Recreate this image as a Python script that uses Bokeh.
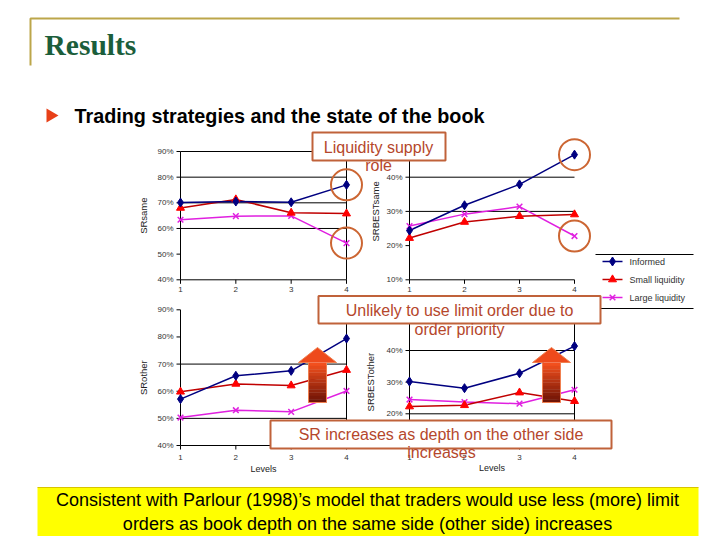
import math
from bokeh.plotting import figure
from bokeh.models import Range1d
from bokeh.embed import file_html
from bokeh.resources import INLINE
from bokeh.core.properties import value

# ---------------- data ----------------
levels = [1, 2, 3, 4]
level_labels = ["1", "2", "3", "4"]
series_names = ["Informed", "Small liquidity", "Large liquidity"]

srsame_informed = [70.1, 70.5, 70.2, 77.0]
srsame_small = [68.0, 71.3, 66.1, 65.8]
srsame_large = [63.4, 64.8, 64.9, 54.3]

srbestsame_informed = [24.4, 31.8, 37.9, 46.6]
srbestsame_small = [22.2, 26.9, 28.6, 29.1]
srbestsame_large = [25.7, 29.2, 31.4, 22.8]

srother_informed = [57.1, 65.7, 67.5, 79.4]
srother_small = [59.8, 62.7, 62.1, 67.8]
srother_large = [50.3, 53.0, 52.4, 60.1]

srbestother_informed = [30.2, 28.1, 32.8, 41.4]
srbestother_small = [22.3, 22.7, 26.7, 24.0]
srbestother_large = [24.5, 23.7, 23.2, 27.6]

ticks_sr = [40, 50, 60, 70, 80, 90]
ticks_srbest = [10, 20, 30, 40, 50]

title_text = "Results"
subtitle_text = "Trading strategies and the state of the book"
box1_lines = ["Liquidity supply", "role"]
box2_lines = ["Unlikely to use limit order due to", "order priority"]
box3_lines = ["SR increases as depth on the other side", "increases"]
footer_lines = ["Consistent with Parlour (1998)\u2019s model that traders would use less (more) limit",
                "orders as book depth on the same side (other side) increases"]

# ---------------- styles ----------------
FONT = value("Liberation Sans")
SERIF = value("Liberation Serif")
C_INF = "#000080"
C_SML_M = "#FF0000"
C_SML_L = "#C00000"
C_LRG = "#E020E0"
C_BOX = "#C0623A"
C_BOXTXT = "#B5472C"
C_TICK = "#333333"

W, H = 716, 536
XL, YT = 0, 0                 # page position of the canvas' top-left corner (as photographed)
XR, YB = XL + W, YT + H
p = figure(width=W, height=H, x_range=Range1d(XL, XR), y_range=Range1d(YB, YT),
           output_backend="svg", toolbar_location=None, min_border=0,
           x_axis_type=None, y_axis_type=None)
p.outline_line_color = None
p.background_fill_color = "white"
p.border_fill_color = "white"

# chart placements in page pixels: (px of level 1, px of level 4, low value, py of low, high value, py of high)
placements = {
    "c1": (180, 346, 40, 279.3, 90, 151.0),
    "c2": (409, 574, 10, 279.3, 40, 176.7),
    "c3": (180, 346, 40, 445.0, 90, 309.3),
    "c4": (409, 574, 20, 413.3, 40, 350.0),
}
exr, eyr = {}, {}
for name, (px1, px4, vlo, pylo, vhi, pyhi) in placements.items():
    kx = (px4 - px1) / 3.0
    xs = 1 - (px1 - XL) / kx
    exr[name + "x"] = Range1d(xs, xs + W / kx)
    ky = (pylo - pyhi) / (vhi - vlo)
    ys = vlo - (YB - pylo) / ky
    eyr[name + "y"] = Range1d(ys, ys + H / ky)
p.extra_x_ranges = exr
p.extra_y_ranges = eyr


def draw_chart(name, inf, sml, lrg, ticks, ylo, yhi, grid_vals, right_border,
               ytitle, title_off, xlab_off, show_levels, circles):
    kw = dict(x_range_name=name + "x", y_range_name=name + "y")
    n = len(grid_vals)
    if n:
        p.segment(x0=[1] * n, x1=[4] * n, y0=grid_vals, y1=grid_vals,
                  line_color="black", line_width=1, **kw)
    p.segment(x0=[1], y0=[ylo], x1=[1], y1=[yhi], line_color="black", line_width=1, **kw)
    p.segment(x0=[1], y0=[ylo], x1=[4], y1=[ylo], line_color="black", line_width=1, **kw)
    if right_border:
        p.segment(x0=[4], y0=[ylo], x1=[4], y1=[yhi], line_color="black", line_width=1, **kw)
    p.ray(x=[1] * len(ticks), y=ticks, length=4, angle=math.pi, length_units="screen",
          line_color="black", line_width=1, **kw)
    p.ray(x=levels, y=[ylo] * 4, length=4, angle=-math.pi / 2, length_units="screen",
          line_color="black", line_width=1, **kw)
    p.text(x=[1] * len(ticks), y=ticks, text=["%d%%" % t for t in ticks], x_offset=-7,
           text_align="right", text_baseline="middle", text_font=FONT,
           text_font_size="8px", text_color=C_TICK, **kw)
    p.text(x=levels, y=[ylo] * 4, text=level_labels, y_offset=xlab_off,
           text_align="center", text_baseline="middle", text_font=FONT,
           text_font_size="8px", text_color=C_TICK, **kw)
    if show_levels:
        p.text(x=[2.5], y=[ylo], text=["Levels"], y_offset=xlab_off + 11,
               text_align="center", text_baseline="middle", text_font=FONT,
               text_font_size="9px", text_color="#222222", **kw)
    p.text(x=[1], y=[(ylo + yhi) / 2.0], text=[ytitle], x_offset=title_off, angle=math.pi / 2,
           text_align="center", text_baseline="middle", text_font=FONT,
           text_font_size="9.5px", text_color="#222222", **kw)
    # series
    p.line(levels, lrg, line_color=C_LRG, line_width=1.5, **kw)
    p.line(levels, sml, line_color=C_SML_L, line_width=1.5, **kw)
    p.line(levels, inf, line_color=C_INF, line_width=1.5, **kw)
    p.scatter(levels, lrg, marker="x", size=8, line_color=C_LRG, line_width=1.5, **kw)
    p.scatter(levels, sml, marker="triangle", size=8, fill_color=C_SML_M, line_color=C_SML_M, **kw)
    p.scatter(levels, inf, marker="diamond", size=9, fill_color=C_INF, line_color=C_INF, **kw)
    if circles:
        p.scatter(x=[4, 4], y=[inf[3], lrg[3]], marker="circle", size=31, fill_color=None,
                  line_color="#CC6633", line_width=2, **kw)


draw_chart("c1", srsame_informed, srsame_small, srsame_large, ticks_sr, 40, 90,
           [60, 70, 80, 90], True, "SRsame", -37, 10, False, True)
draw_chart("c2", srbestsame_informed, srbestsame_small, srbestsame_large, ticks_srbest, 10, 50,
           [30, 40], False, "SRBESTsame", -34, 10, False, True)
draw_chart("c3", srother_informed, srother_small, srother_large, ticks_sr, 40, 90,
           [50, 70], True, "SRother", -37, 12, True, False)
draw_chart("c4", srbestother_informed, srbestother_small, srbestother_large, ticks_srbest, 10, 50,
           [20, 40], True, "SRBESTother", -39, 12, True, False)

# ---------------- legend ----------------
p.segment(x0=[595, 595], x1=[693, 693], y0=[254, 308], y1=[254, 308], line_color="black", line_width=1)
leg_y = [261, 279, 297]
leg_line_colors = [C_INF, C_SML_L, C_LRG]
p.segment(x0=[602] * 3, x1=[622] * 3, y0=leg_y, y1=leg_y, line_color=leg_line_colors, line_width=1.5)
p.scatter([612], [leg_y[0]], marker="diamond", size=9, fill_color=C_INF, line_color=C_INF)
p.scatter([612], [leg_y[1]], marker="triangle", size=8, fill_color=C_SML_M, line_color=C_SML_M)
p.scatter([612], [leg_y[2]], marker="x", size=8, line_color=C_LRG, line_width=1.5)
p.text(x=[629] * 3, y=leg_y, text=series_names, text_align="left", text_baseline="middle",
       text_font=FONT, text_font_size="9px", text_color=C_TICK)

# ---------------- arrows ----------------
def up_arrow(cx, top, head_base, bottom, hw, sw):
    n = 12
    h = (bottom - head_base) / n
    c0 = (242, 80, 30)
    c1 = (112, 20, 6)
    cols = []
    for i in range(n):
        t = i / (n - 1)
        cols.append("#%02x%02x%02x" % tuple(int(c0[k] + (c1[k] - c0[k]) * t) for k in range(3)))
    p.quad(left=[cx - sw] * n, right=[cx + sw] * n,
           top=[head_base + i * h for i in range(n)],
           bottom=[head_base + (i + 1) * h + 0.3 for i in range(n)],
           fill_color=cols, line_color=None)
    p.patch([cx - hw, cx, cx + hw], [head_base, top, head_base], fill_color="#EE4A1C", line_color=None)
    p.patch([cx - sw, cx - sw, cx - hw, cx, cx + hw, cx + sw, cx + sw],
            [bottom, head_base, head_base, top, head_base, head_base, bottom],
            fill_color=None, line_color="#F08050", line_width=1)

up_arrow(317, 347, 362, 402, 19, 9)
up_arrow(551, 347, 362, 402, 19, 9)

# ---------------- annotation boxes ----------------
p.quad(left=[312, 318, 270], right=[445, 600, 611], top=[132, 295.5, 420], bottom=[160, 323, 448],
       fill_color="white", line_color=C_BOX, line_width=2)
p.text(x=[378, 378, 459, 459, 440.5, 441],
       y=[146.5, 165, 310, 328.5, 434, 452],
       text=[box1_lines[0], box1_lines[1], box2_lines[0], box2_lines[1], box3_lines[0], box3_lines[1]],
       text_align="center", text_baseline="middle", text_font=FONT,
       text_font_size="16px", text_color=C_BOXTXT)

# ---------------- header ----------------
p.line([30, 30, 679], [65, 18, 18], line_color="#BCA64A", line_width=2)
p.text(x=[44], y=[44], text=[title_text], text_align="left", text_baseline="middle",
       text_font=SERIF, text_font_style="bold", text_font_size="29.5px", text_color="#1B5E3B")
p.patch([46, 46, 58], [108, 122, 115], fill_color="#E84018", line_color=None)
p.text(x=[74], y=[115], text=[subtitle_text], text_align="left", text_baseline="middle",
       text_font=FONT, text_font_style="bold", text_font_size="19.8px", text_color="black")

# ---------------- footer ----------------
p.quad(left=[37], right=[698], top=[487], bottom=[540], fill_color="#FFFF00", line_color=None)
p.segment(x0=[37], x1=[698], y0=[487], y1=[487], line_color="#D8C400", line_width=1)
p.text(x=[367, 367], y=[499, 523], text=footer_lines, text_align="center", text_baseline="middle",
       text_font=FONT, text_font_size="18px", text_color="black")

open("out.html", "w").write(file_html(p, INLINE))
